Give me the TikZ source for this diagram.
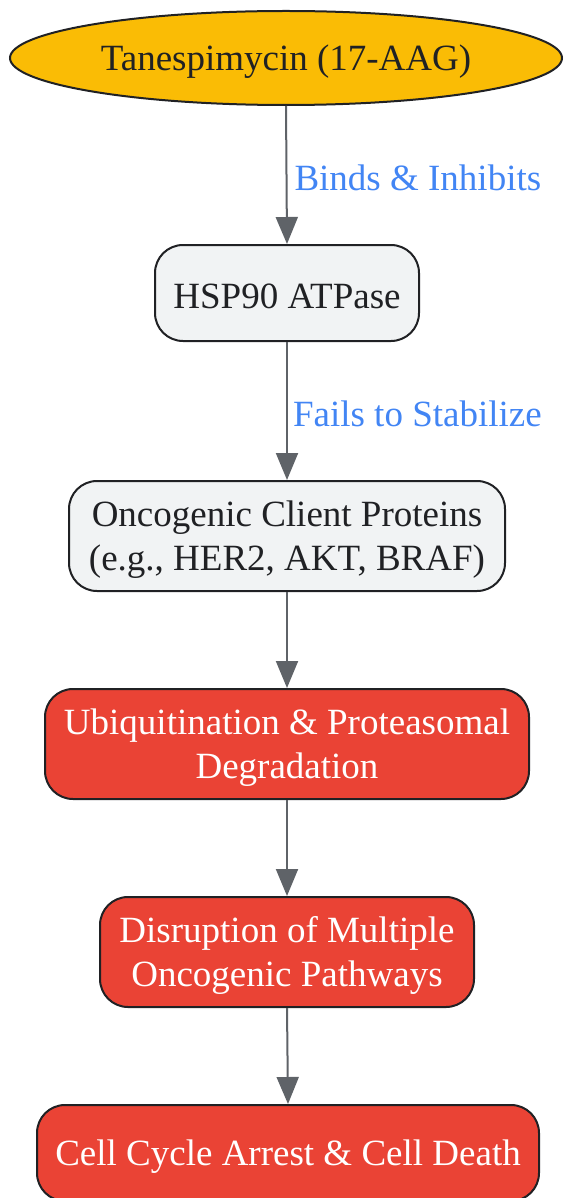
\documentclass[tikz,border=0pt]{standalone}
\usepackage{fontspec}
\setmainfont{Liberation Serif}
\usetikzlibrary{shapes.geometric,arrows.meta}
\definecolor{edgegray}{HTML}{5F6368}
\definecolor{boxfill}{HTML}{F1F3F4}
\definecolor{redfill}{HTML}{EA4335}
\definecolor{drugfill}{HTML}{FABC05}
\definecolor{txtdark}{HTML}{202124}
\definecolor{lblblue}{HTML}{4285F4}
\newcommand{\dn}[1]{\raisebox{-3.5pt}[\height][\depth]{#1}}
\tikzset{
  basebox/.style={draw=txtdark, line width=2pt, rounded corners=28pt, inner sep=0pt, align=center,
    font=\fontsize{37}{44}\selectfont},
  greybox/.style={basebox, fill=boxfill, text=txtdark},
  redbox/.style={basebox, fill=redfill, text=white},
  conn/.style={draw=edgegray, line width=2pt, -{Triangle[length=27pt,width=22pt]}},
  lbl/.style={text=lblblue, font=\fontsize{37}{44}\selectfont, anchor=west, inner sep=0pt}
}
\begin{document}
\begin{tikzpicture}[x=1pt,y=-1pt]
\useasboundingbox (0,0) rectangle (563,1198);
\node[ellipse, draw=txtdark, line width=2pt, fill=drugfill, text=txtdark, minimum width=552pt, minimum height=94pt, inner sep=0pt,
  font=\fontsize{37}{44}\selectfont] (drug) at (286,58) {\dn{Tanespimycin (17-AAG)}};
\node[greybox, minimum width=264pt, minimum height=96pt] (hsp) at (287,293) {\dn{HSP90 ATPase}};
\node[greybox, minimum width=436pt, minimum height=110pt] (client) at (287,536) {\dn{Oncogenic Client Proteins}\\\dn{(e.g., HER2, AKT, BRAF)}};
\node[redbox, minimum width=484pt, minimum height=110pt] (ubi) at (287,744) {\dn{Ubiquitination \& Proteasomal}\\\dn{Degradation}};
\node[redbox, minimum width=374pt, minimum height=110pt] (dis) at (287,952) {\dn{Disruption of Multiple}\\\dn{Oncogenic Pathways}};
\node[redbox, minimum width=502pt, minimum height=96pt] (death) at (288,1153) {\dn{Cell Cycle Arrest \& Cell Death}};
\draw[conn] (drug.south) -- (hsp.north) node[lbl, pos=0.52, xshift=7pt] {Binds \& Inhibits};
\draw[conn] (hsp.south) -- (client.north) node[lbl, pos=0.52, xshift=5pt] {Fails to Stabilize};
\draw[conn] (client.south) -- (ubi.north);
\draw[conn] (ubi.south) -- (dis.north);
\draw[conn] (dis.south) -- (death.north);
\end{tikzpicture}
\end{document}
